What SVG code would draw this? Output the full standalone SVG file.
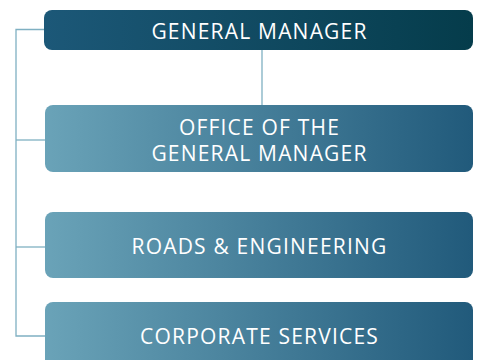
<svg xmlns="http://www.w3.org/2000/svg" width="481" height="360" viewBox="0 0 481 360">
<defs>
<linearGradient id="gTop" x1="0" y1="0" x2="1" y2="0">
<stop offset="0" stop-color="#1c5878"/>
<stop offset="1" stop-color="#053c4b"/>
</linearGradient>
<linearGradient id="gSub" x1="0" y1="0" x2="1" y2="0">
<stop offset="0" stop-color="#6aa3b8"/>
<stop offset="1" stop-color="#215a7b"/>
</linearGradient>
</defs>
<style>
.conn{stroke:#7fb0c2;stroke-width:1.3;fill:none}
.t{font-family:"Open Sans","Liberation Sans",sans-serif;font-size:21px;letter-spacing:1.2px;fill:#ffffff;text-anchor:middle}
</style>
<g id="connectors">
<path class="conn" d="M262,50 V106"/>
<path class="conn" d="M44,29.5 H16 V336 H45"/>
<path class="conn" d="M16,140 H45"/>
<path class="conn" d="M16,247 H45"/>
</g>
<g id="general-manager">
<rect x="44" y="10" width="429" height="40" rx="8" fill="url(#gTop)"/>
<text class="t" x="259.5" y="39">GENERAL MANAGER</text>
</g>
<g id="office-gm">
<rect x="45" y="105" width="428" height="67" rx="8" fill="url(#gSub)"/>
<text class="t" x="259.5" y="135">OFFICE OF THE</text>
<text class="t" x="259.5" y="161">GENERAL MANAGER</text>
</g>
<g id="roads-engineering">
<rect x="45" y="212" width="428" height="66" rx="8" fill="url(#gSub)"/>
<text class="t" x="259.5" y="254">ROADS &amp; ENGINEERING</text>
</g>
<g id="corporate-services">
<rect x="45" y="302" width="428" height="70" rx="8" fill="url(#gSub)"/>
<text class="t" x="259.5" y="344">CORPORATE SERVICES</text>
</g>
</svg>
